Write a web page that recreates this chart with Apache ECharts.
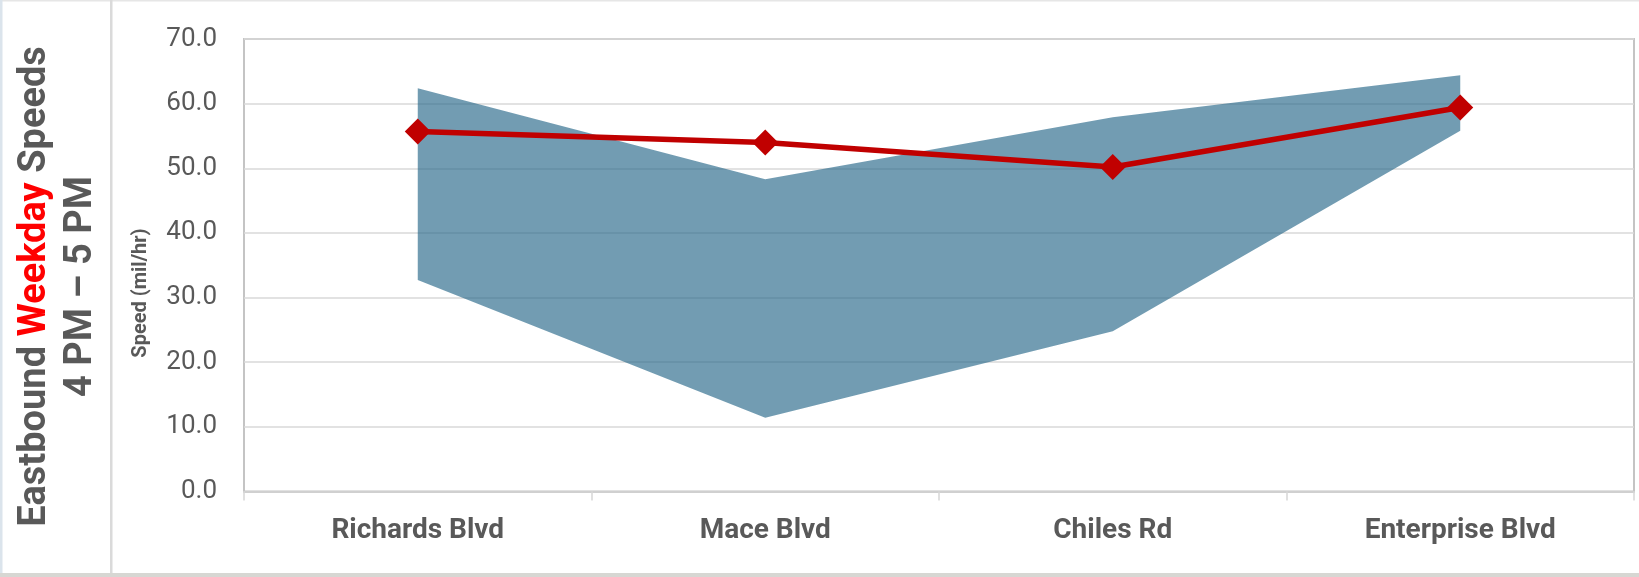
<!DOCTYPE html>
<html>
<head>
<meta charset="utf-8">
<title>Eastbound Weekday Speeds 4 PM – 5 PM</title>
<script src="https://cdn.jsdelivr.net/npm/echarts@6/dist/echarts.min.js"></script>
<style>
  html, body { margin: 0; padding: 0; background: #ffffff; }
  #chart { width: 1639px; height: 577px; }
</style>
</head>
<body>
<div id="chart"></div>
<script>
// Interchanges along the corridor, west to east
const locations = ['Richards Blvd', 'Mace Blvd', 'Chiles Rd', 'Enterprise Blvd'];
// Lowest and highest observed speeds (mi/hr) at each interchange
const lowSpeed  = [32.7, 11.4, 24.8, 55.8];
const highSpeed = [62.4, 48.3, 57.9, 64.4];
// Average speed (mi/hr) at each interchange
const avgSpeed  = [55.7, 54.0, 50.2, 59.4];
// Value axis range and step
const yMin = 0, yMax = 70, yStep = 10;

// Band thickness stacked on top of the low speed
const bandSpan = highSpeed.map((h, i) => +(h - lowSpeed[i]).toFixed(1));

const GREY = '#595959';
const chart = echarts.init(document.getElementById('chart'), null, { renderer: 'canvas' });

chart.setOption({
  animation: false,
  backgroundColor: '#ffffff',
  grid: {
    left: 244, right: 5, top: 39, bottom: 85.5,
    show: true, borderColor: '#c4c4c4', borderWidth: 2,
    containLabel: false
  },
  xAxis: {
    type: 'category',
    data: locations,
    boundaryGap: true,
    axisLine: { show: true, lineStyle: { color: '#d0d0d0', width: 2 } },
    axisTick: { show: true, alignWithLabel: false, length: 9, lineStyle: { color: '#d6d6d6', width: 1.5 } },
    axisLabel: {
      margin: 25, color: GREY, fontFamily: 'Roboto', fontWeight: 'bold',
      fontSize: 28, lineHeight: 28
    },
    splitLine: { show: false }
  },
  yAxis: {
    type: 'value',
    min: yMin, max: yMax, interval: yStep,
    axisLine: { show: false },
    axisTick: { show: false },
    axisLabel: {
      margin: 27, color: GREY, fontFamily: 'Roboto', fontSize: 26,
      formatter: v => v.toFixed(1)
    },
    splitLine: { show: true, lineStyle: { color: '#d9d9d9', width: 1.5 } }
  },
  series: [
    {
      name: 'Low',
      type: 'line',
      stack: 'range',
      data: lowSpeed,
      symbol: 'none',
      lineStyle: { width: 0, opacity: 0 },
      silent: true,
      z: 2
    },
    {
      name: 'Speed range',
      type: 'line',
      stack: 'range',
      data: bandSpan,
      symbol: 'none',
      lineStyle: { width: 0, opacity: 0 },
      areaStyle: { color: 'rgba(35,100,135,0.64)', opacity: 1 },
      silent: true,
      z: 2
    },
    {
      name: 'Average speed',
      type: 'line',
      data: avgSpeed,
      symbol: 'diamond',
      symbolSize: 26,
      lineStyle: { color: '#C00000', width: 5.5 },
      itemStyle: { color: '#C00000' },
      z: 5
    }
  ],
  graphic: [
    // outer frame
    { type: 'rect', shape: { x: 0, y: 0, width: 1639, height: 1.5 }, style: { fill: '#e6e6e6' }, silent: true },
    { type: 'rect', shape: { x: 0, y: 0, width: 2.5, height: 577 }, style: { fill: '#dbe4ec' }, silent: true },
    { type: 'rect', shape: { x: 0, y: 573, width: 1639, height: 4 }, style: { fill: '#d7d7d3' }, silent: true },
    // divider between title panel and plot
    { type: 'rect', shape: { x: 110, y: 0, width: 2.5, height: 573 }, style: { fill: '#dadada' }, silent: true },
    // vertical title
    {
      type: 'text',
      x: 35.5, y: 286.5,
      rotation: Math.PI / 2,
      style: {
        text: '{g|Eastbound }{r|Weekday}{g| Speeds}',
        align: 'center', verticalAlign: 'middle',
        rich: {
          g: { fontFamily: 'Roboto', fontWeight: 'bold', fontSize: 38, fill: GREY },
          r: { fontFamily: 'Roboto', fontWeight: 'bold', fontSize: 38, fill: '#FF0000' }
        }
      }
    },
    {
      type: 'text',
      x: 81.5, y: 286.5,
      rotation: Math.PI / 2,
      style: {
        text: '4 PM – 5 PM',
        align: 'center', verticalAlign: 'middle',
        fontFamily: 'Roboto', fontWeight: 'bold', fontSize: 38, fill: GREY
      }
    },
    // value axis title
    {
      type: 'text',
      x: 141, y: 293,
      rotation: Math.PI / 2,
      style: {
        text: 'Speed (mil/hr)',
        align: 'center', verticalAlign: 'middle',
        fontFamily: 'Roboto', fontWeight: 'bold', fontSize: 20, fill: GREY
      }
    }
  ]
});
</script>
</body>
</html>
